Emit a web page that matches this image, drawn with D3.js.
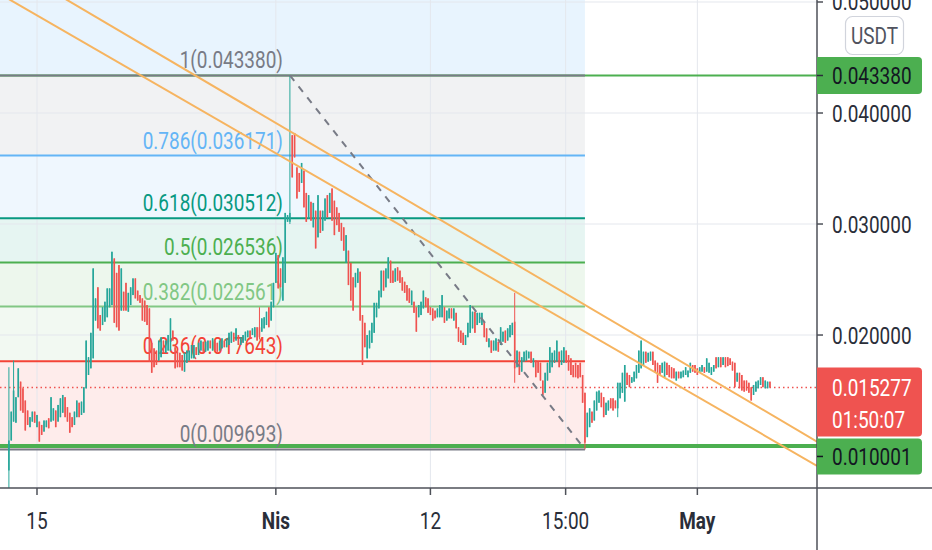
<!DOCTYPE html>
<html>
<head>
<meta charset="utf-8">
<script src="https://cdn.jsdelivr.net/npm/d3@7"></script>
<style>
  html, body { margin: 0; padding: 0; background: #fff; }
  svg { display: block; font-family: Roboto, "Noto Sans", sans-serif; }
</style>
</head>
<body>
<svg id="chart" width="932" height="550"></svg>
<script>
// DONNEES ---------------------------------------------------
// bougies 4h a partir du 13 mars 2020 (UTC)
let candleStart = "2020-03-13T00:00:00Z";

let opens = [
  0.0078,0.0105,0.0122,0.0121,0.0144,0.0158,0.0152,0.0141,0.0132,0.0117,
  0.0122,0.0131,0.0117,0.0122,0.0119,0.0113,0.0117,0.0125,0.0122,0.0123,
  0.0132,0.0122,0.0126,0.0130,0.0144,0.0135,0.0130,0.0126,0.0119,0.0126,
  0.0139,0.0128,0.0130,0.0152,0.0164,0.0170,0.0179,0.0213,0.0243,0.0218,
  0.0209,0.0212,0.0216,0.0225,0.0227,0.0269,0.0256,0.0263,0.0222,0.0239,
  0.0247,0.0221,0.0227,0.0236,0.0251,0.0240,0.0236,0.0233,0.0231,0.0227,
  0.0224,0.0193,0.0188,0.0186,0.0177,0.0180,0.0195,0.0184,0.0186,0.0186,
  0.0204,0.0189,0.0185,0.0184,0.0182,0.0167,0.0175,0.0177,0.0179,0.0179,
  0.0189,0.0182,0.0186,0.0194,0.0185,0.0186,0.0195,0.0186,0.0195,0.0193,
  0.0186,0.0188,0.0195,0.0189,0.0191,0.0193,0.0202,0.0195,0.0200,0.0191,
  0.0193,0.0195,0.0198,0.0204,0.0200,0.0198,0.0207,0.0207,0.0203,0.0206,
  0.0209,0.0225,0.0213,0.0225,0.0247,0.0272,0.0260,0.0231,0.0247,0.0302,
  0.0302,0.0380,0.0382,0.0351,0.0346,0.0337,0.0348,0.0328,0.0305,0.0320,
  0.0297,0.0312,0.0288,0.0312,0.0294,0.0303,0.0326,0.0310,0.0332,0.0321,
  0.0315,0.0310,0.0301,0.0297,0.0265,0.0276,0.0265,0.0252,0.0243,0.0247,
  0.0257,0.0218,0.0211,0.0179,0.0188,0.0193,0.0202,0.0216,0.0224,0.0234,
  0.0258,0.0243,0.0251,0.0267,0.0258,0.0248,0.0261,0.0258,0.0252,0.0248,
  0.0245,0.0242,0.0227,0.0230,0.0225,0.0216,0.0218,0.0224,0.0234,0.0233,
  0.0225,0.0224,0.0222,0.0216,0.0216,0.0216,0.0225,0.0213,0.0215,0.0224,
  0.0213,0.0220,0.0207,0.0204,0.0202,0.0191,0.0198,0.0202,0.0206,0.0221,
  0.0209,0.0211,0.0209,0.0212,0.0206,0.0189,0.0195,0.0186,0.0186,0.0194,
  0.0191,0.0194,0.0204,0.0195,0.0198,0.0200,0.0212,0.0171,0.0185,0.0167,
  0.0176,0.0177,0.0179,0.0185,0.0171,0.0177,0.0176,0.0175,0.0159,0.0148,
  0.0159,0.0166,0.0171,0.0175,0.0176,0.0185,0.0173,0.0175,0.0186,0.0182,
  0.0179,0.0173,0.0175,0.0173,0.0175,0.0164,0.0148,0.0108,0.0117,0.0131,
  0.0123,0.0132,0.0139,0.0148,0.0144,0.0128,0.0132,0.0143,0.0143,0.0141,
  0.0134,0.0143,0.0148,0.0140,0.0166,0.0164,0.0157,0.0158,0.0161,0.0166,
  0.0170,0.0173,0.0185,0.0176,0.0177,0.0185,0.0177,0.0175,0.0173,0.0166,
  0.0162,0.0175,0.0173,0.0171,0.0170,0.0159,0.0167,0.0161,0.0162,0.0164,
  0.0162,0.0166,0.0173,0.0173,0.0170,0.0166,0.0167,0.0171,0.0167,0.0166,
  0.0164,0.0167,0.0180,0.0171,0.0180,0.0173,0.0180,0.0180,0.0179,0.0176,
  0.0175,0.0158,0.0166,0.0164,0.0159,0.0159,0.0157,0.0153,0.0146,0.0149,
  0.0152,0.0155,0.0162,0.0152,0.0152,0.0158
];

let closes = [
  0.0105,0.0131,0.0150,0.0144,0.0170,0.0132,0.0130,0.0114,0.0119,0.0126,
  0.0131,0.0121,0.0128,0.0104,0.0110,0.0123,0.0123,0.0116,0.0144,0.0134,
  0.0117,0.0137,0.0143,0.0146,0.0126,0.0122,0.0112,0.0117,0.0131,0.0141,
  0.0126,0.0140,0.0153,0.0195,0.0180,0.0202,0.0260,0.0233,0.0206,0.0204,
  0.0225,0.0230,0.0242,0.0242,0.0275,0.0211,0.0207,0.0204,0.0260,0.0222,
  0.0222,0.0238,0.0243,0.0251,0.0233,0.0231,0.0229,0.0213,0.0212,0.0209,
  0.0176,0.0166,0.0171,0.0173,0.0195,0.0198,0.0184,0.0195,0.0200,0.0215,
  0.0195,0.0170,0.0171,0.0171,0.0168,0.0184,0.0186,0.0186,0.0191,0.0191,
  0.0182,0.0193,0.0195,0.0185,0.0194,0.0195,0.0188,0.0197,0.0186,0.0185,
  0.0195,0.0197,0.0189,0.0197,0.0202,0.0203,0.0194,0.0206,0.0191,0.0198,
  0.0200,0.0203,0.0204,0.0197,0.0206,0.0207,0.0195,0.0198,0.0215,0.0216,
  0.0221,0.0207,0.0230,0.0247,0.0274,0.0242,0.0243,0.0270,0.0310,0.0308,
  0.0310,0.0342,0.0360,0.0323,0.0329,0.0355,0.0315,0.0302,0.0326,0.0303,
  0.0319,0.0278,0.0326,0.0292,0.0312,0.0323,0.0306,0.0328,0.0303,0.0290,
  0.0299,0.0293,0.0285,0.0276,0.0290,0.0245,0.0231,0.0222,0.0256,0.0260,
  0.0213,0.0173,0.0189,0.0200,0.0204,0.0211,0.0229,0.0229,0.0240,0.0258,
  0.0240,0.0260,0.0270,0.0247,0.0247,0.0260,0.0249,0.0247,0.0240,0.0238,
  0.0231,0.0229,0.0240,0.0220,0.0203,0.0227,0.0230,0.0240,0.0225,0.0220,
  0.0218,0.0213,0.0215,0.0224,0.0227,0.0236,0.0211,0.0222,0.0224,0.0215,
  0.0224,0.0206,0.0194,0.0193,0.0191,0.0200,0.0211,0.0227,0.0221,0.0202,
  0.0220,0.0220,0.0220,0.0198,0.0194,0.0197,0.0184,0.0195,0.0197,0.0185,
  0.0207,0.0203,0.0193,0.0206,0.0209,0.0211,0.0170,0.0186,0.0164,0.0180,
  0.0185,0.0186,0.0185,0.0175,0.0179,0.0162,0.0166,0.0159,0.0146,0.0166,
  0.0175,0.0189,0.0184,0.0186,0.0195,0.0171,0.0186,0.0189,0.0175,0.0168,
  0.0164,0.0162,0.0162,0.0161,0.0162,0.0139,0.0103,0.0130,0.0134,0.0121,
  0.0141,0.0149,0.0150,0.0135,0.0126,0.0139,0.0141,0.0134,0.0132,0.0134,
  0.0157,0.0157,0.0166,0.0173,0.0155,0.0153,0.0162,0.0167,0.0173,0.0186,
  0.0195,0.0185,0.0175,0.0184,0.0185,0.0173,0.0166,0.0157,0.0164,0.0175,
  0.0176,0.0164,0.0162,0.0161,0.0161,0.0167,0.0161,0.0167,0.0168,0.0171,
  0.0168,0.0175,0.0167,0.0166,0.0164,0.0171,0.0173,0.0166,0.0179,0.0175,
  0.0171,0.0173,0.0170,0.0180,0.0171,0.0180,0.0171,0.0172,0.0173,0.0168,
  0.0153,0.0166,0.0152,0.0150,0.0149,0.0150,0.0148,0.0141,0.0155,0.0158,
  0.0159,0.0162,0.0153,0.0159,0.0158,0.015277
];

// meches qui depassent le corps
let wickIdx  = [0, 2, 107, 120, 216, 246, 260];
let wickHigh = [0.0171, 0.0177, 0.0225, 0.043380, 0.0238, 0.0148, 0.0157];
let wickLow  = [0.0060, 0.0122, 0.0196, 0.0300, 0.0157, 0.009693, 0.0126];

// Fibonacci
let fibStart = "2020-04-02T00:00:00Z";
let fibEnd   = "2020-04-23T00:00:00Z";
let fibLevels = [0, 0.236, 0.382, 0.5, 0.618, 0.786, 1, 1.618];
let fibPrices = [0.009693, 0.017643, 0.022561, 0.026536, 0.030512, 0.036171, 0.043380, 0.0642];
let fibColors = ["#787b86", "#f44336", "#81c784", "#4caf50", "#089981", "#64b5f6", "#787b86", "#2196f3"];

// lignes horizontales, dernier prix
let hLines = [0.043380, 0.010001];
let lastPrice = 0.015277;
let countdown = "01:50:07";

// lignes de tendance orange
let trendLines = [
  [["2020-03-17T02:45:00Z", 0.0502], ["2020-05-09T00:30:00Z", 0.01077]],
  [["2020-03-13T01:50:00Z", 0.0502], ["2020-05-08T07:25:00Z", 0.0091]]
];

// axes
let priceTicks = [0.02, 0.03, 0.04, 0.05];
let timeTicks  = ["2020-03-15T00:00:00Z", "2020-04-01T00:00:00Z", "2020-04-12T00:00:00Z", "2020-04-21T15:00:00Z", "2020-05-01T00:00:00Z"];
let timeLabels = ["15", "Nis", "12", "15:00", "May"];
let timeBold   = [false, true, false, false, true];


// GRAPHIQUE -------------------------------------------------
let W = 932, H = 550;
let plotW = 817, plotH = 488;
let SX = 0.79;   // texte etroit comme sur la capture
let axisColor = "#4e5159";
let textColor = "#2a2e39";

let svg = d3.select("#chart");

let x = d3.scaleUtc()
  .domain([new Date("2020-03-12T08:48:00Z"), new Date("2020-05-09T12:23:00Z")])
  .range([0, plotW]);

let y = d3.scaleLinear()
  .domain([0.00622, 0.05018])
  .range([plotH, 0]);

svg.append("defs").append("clipPath").attr("id", "plotClip")
  .append("rect").attr("x", 0).attr("y", 0).attr("width", plotW).attr("height", plotH);

let plot = svg.append("g").attr("clip-path", "url(#plotClip)");

// texte etroit
let sqText = function(g, px, py, txt, size, color, anchor, weight) {
  return g.append("text")
    .attr("transform", "translate(" + px + "," + py + ") scale(" + SX + ",1)")
    .attr("text-anchor", anchor || "start")
    .attr("font-size", size)
    .attr("font-weight", weight || "normal")
    .attr("fill", color)
    .text(txt);
};

let xFibS = x(new Date(fibStart));
let xFibE = x(new Date(fibEnd));

// fonds du Fibonacci
for (let k = 0; k < fibLevels.length - 1; k++) {
  let yTop = y(fibPrices[k + 1]);
  let yBot = y(fibPrices[k]);
  plot.append("rect")
    .attr("x", 0).attr("width", xFibE)
    .attr("y", yTop).attr("height", yBot - yTop)
    .attr("fill", fibColors[k + 1])
    .attr("fill-opacity", 0.1);
}

// grille
plot.selectAll(".vgrid").data(timeTicks).enter().append("line")
  .attr("x1", d => x(new Date(d))).attr("x2", d => x(new Date(d)))
  .attr("y1", 0).attr("y2", plotH)
  .attr("stroke", "#e4e7ed").attr("stroke-width", 1);

plot.selectAll(".hgrid").data(priceTicks).enter().append("line")
  .attr("x1", 0).attr("x2", plotW)
  .attr("y1", d => y(d)).attr("y2", d => y(d))
  .attr("stroke", "#e4e7ed").attr("stroke-width", 1);

// lignes horizontales vertes
plot.selectAll(".hline").data(hLines).enter().append("line")
  .attr("x1", 0).attr("x2", plotW)
  .attr("y1", d => y(d)).attr("y2", d => y(d))
  .attr("stroke", "#4caf50")
  .attr("stroke-width", (d, i) => i === 1 ? 4 : 2);

// niveaux Fibonacci
for (let k = 0; k < fibLevels.length - 1; k++) {
  plot.append("line")
    .attr("x1", 0).attr("x2", xFibE)
    .attr("y1", y(fibPrices[k])).attr("y2", y(fibPrices[k]))
    .attr("stroke", fibColors[k]).attr("stroke-width", 2);
  sqText(plot, xFibS - 7, y(fibPrices[k]) - 7,
    fibLevels[k] + "(" + fibPrices[k].toFixed(6) + ")", 24, fibColors[k], "end");
}

// ligne du dernier prix
plot.append("line")
  .attr("x1", 0).attr("x2", plotW)
  .attr("y1", y(lastPrice)).attr("y2", y(lastPrice))
  .attr("stroke", "#ef5350").attr("stroke-width", 1.5)
  .attr("stroke-dasharray", "1.5,3");

// bougies
let t0 = new Date(candleStart);
let candles = opens.map(function(o, i) {
  let c = closes[i];
  let w = wickIdx.indexOf(i);
  return {
    t: d3.utcHour.offset(t0, 4 * i),
    o: o, c: c,
    h: w >= 0 ? Math.max(wickHigh[w], o, c) : Math.max(o, c),
    l: w >= 0 ? Math.min(wickLow[w], o, c) : Math.min(o, c)
  };
});

let gC = plot.append("g");
gC.selectAll(".wick").data(candles).enter().append("line")
  .attr("x1", d => x(d.t)).attr("x2", d => x(d.t))
  .attr("y1", d => y(d.h)).attr("y2", d => y(d.l))
  .attr("stroke", d => d.c >= d.o ? "#26a69a" : "#ef5350")
  .attr("stroke-width", 1);

gC.selectAll(".body").data(candles).enter().append("rect")
  .attr("x", d => x(d.t) - 0.8)
  .attr("width", 1.6)
  .attr("y", d => y(Math.max(d.o, d.c)))
  .attr("height", d => Math.max(1, Math.abs(y(d.o) - y(d.c))))
  .attr("fill", d => d.c >= d.o ? "#26a69a" : "#ef5350");

// ligne pointillee du Fibonacci
plot.append("line")
  .attr("x1", xFibS).attr("y1", y(fibPrices[6]))
  .attr("x2", xFibE).attr("y2", y(fibPrices[0]))
  .attr("stroke", "#787b86").attr("stroke-width", 2)
  .attr("stroke-dasharray", "7,7");

// lignes de tendance, prolongees jusqu'aux bords
trendLines.forEach(function(tl) {
  let x1 = x(new Date(tl[0][0])), y1 = y(tl[0][1]);
  let x2 = x(new Date(tl[1][0])), y2 = y(tl[1][1]);
  let m = (y2 - y1) / (x2 - x1);
  plot.append("line")
    .attr("x1", 0).attr("y1", y1 - m * x1)
    .attr("x2", plotW).attr("y2", y1 + m * (plotW - x1))
    .attr("stroke", "#f6b460").attr("stroke-width", 2);
});


// AXES ------------------------------------------------------
svg.append("line")
  .attr("x1", plotW).attr("x2", plotW).attr("y1", 0).attr("y2", H)
  .attr("stroke", axisColor).attr("stroke-width", 1.5);
svg.append("line")
  .attr("x1", 0).attr("x2", W).attr("y1", plotH).attr("y2", plotH)
  .attr("stroke", axisColor).attr("stroke-width", 1.5);

// axe des prix
let gY = svg.append("g");
priceTicks.forEach(function(p) {
  gY.append("line")
    .attr("x1", plotW).attr("x2", plotW + 6)
    .attr("y1", y(p)).attr("y2", y(p))
    .attr("stroke", axisColor).attr("stroke-width", 1.5);
  sqText(gY, 832, y(p) + 8.5, p.toFixed(6), 24, textColor);
});

// badge USDT
gY.append("rect")
  .attr("x", 845.5).attr("y", 16.5).attr("width", 58).attr("height", 38)
  .attr("rx", 7).attr("fill", "#fff")
  .attr("stroke", "#d1d4dc").attr("stroke-width", 1.2);
sqText(gY, 874.5, 44, "USDT", 24, "#50535e", "middle");

// etiquettes de prix
let tag = function(top, h, fill) {
  let r = 4, x0 = plotW, x1 = 922;
  gY.append("path")
    .attr("d", "M" + x0 + "," + top + "H" + (x1 - r) +
      "a" + r + "," + r + " 0 0 1 " + r + "," + r +
      "V" + (top + h - r) +
      "a" + r + "," + r + " 0 0 1 " + (-r) + "," + r +
      "H" + x0 + "Z")
    .attr("fill", fill);
};

let yTop = y(hLines[0]);
tag(yTop - 18.5, 37, "#4caf50");
gY.append("line").attr("x1", plotW).attr("x2", plotW + 6)
  .attr("y1", yTop).attr("y2", yTop).attr("stroke", textColor).attr("stroke-width", 1.5);
sqText(gY, 832, yTop + 8.5, hLines[0].toFixed(6), 24, "#131722");

let yLast = y(lastPrice);
tag(yLast - 20, 69, "#ef5350");
sqText(gY, 832, yLast + 9, lastPrice.toFixed(6), 24, "#fff");
sqText(gY, 832, yLast + 41, countdown, 24, "#fff");

let yLow = yLast + 51;
tag(yLow, 36, "#4caf50");
gY.append("line").attr("x1", plotW).attr("x2", plotW + 6)
  .attr("y1", yLow + 18).attr("y2", yLow + 18).attr("stroke", "#131722").attr("stroke-width", 1.5);
sqText(gY, 832, yLow + 27, hLines[1].toFixed(6), 24, "#131722");

// axe du temps
let gX = svg.append("g");
timeTicks.forEach(function(d, i) {
  let px = x(new Date(d));
  gX.append("line")
    .attr("x1", px).attr("x2", px).attr("y1", plotH).attr("y2", plotH + 7)
    .attr("stroke", axisColor).attr("stroke-width", 1.5);
  sqText(gX, px, 529, timeLabels[i], 24, textColor, "middle", timeBold[i] ? "bold" : "normal");
});
</script>
</body>
</html>
